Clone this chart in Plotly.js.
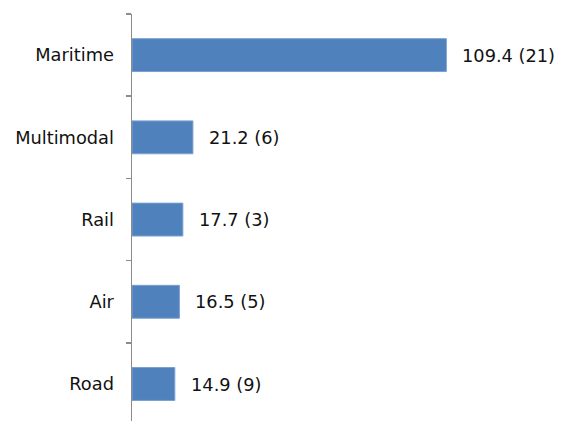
<!DOCTYPE html>
<html><head><meta charset="utf-8">
<script src="https://cdn.plot.ly/plotly-3.0.1.min.js"></script>
<style>html,body{margin:0;padding:0;background:#fff}#c{width:563px;height:421px}</style>
</head><body><div id="c"></div>
<script>
const categories = ["Road", "Air", "Rail", "Multimodal", "Maritime"];
const values = [14.9, 16.5, 17.7, 21.2, 109.4];
const counts = [9, 5, 3, 6, 21];
const labels = values.map((v, i) => v.toFixed(1) + " (" + counts[i] + ")");

const font = {family: "DejaVu Sans", size: 17.8, color: "#111"};
const trace = {
  type: "bar", orientation: "h",
  x: values, y: categories,
  width: 0.4,
  marker: {color: "#4F81BD", line: {color: "#7aa0d0", width: 1}},
  hoverinfo: "none"
};
const annotations = values.map((v, i) => ({
  x: v, y: categories[i], xref: "x", yref: "y",
  text: labels[i], showarrow: false, xanchor: "left", yanchor: "middle",
  xshift: 14, font: font
}));
const layout = {
  width: 563, height: 421,
  margin: {l: 132, r: 10, t: 14, b: 0},
  paper_bgcolor: "#fff", plot_bgcolor: "#fff",
  showlegend: false,
  xaxis: {range: [0, 146.5], visible: false, fixedrange: true},
  yaxis: {
    type: "category", range: [-0.45, 4.5],
    showline: true, linecolor: "#8c8c8c", linewidth: 1.5,
    ticks: "outside", tickson: "boundaries", ticklen: 5, tickcolor: "#8c8c8c", tickwidth: 1.5,
    showgrid: false, zeroline: false,
    tickfont: font, ticklabelstandoff: 13, fixedrange: true
  },
  annotations: annotations
};
Plotly.newPlot("c", [trace], layout, {displayModeBar: false, staticPlot: true});
</script></body></html>
